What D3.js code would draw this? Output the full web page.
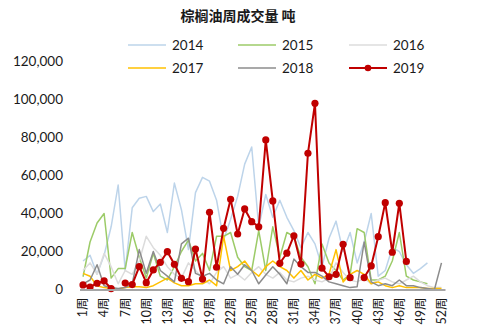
<!DOCTYPE html>
<html>
<head>
<meta charset="utf-8">
<script src="https://cdn.jsdelivr.net/npm/d3@7"></script>
<style>
  html, body { margin: 0; padding: 0; background: #fff; }
  svg text { font-family: Lato, "Noto Sans CJK SC", sans-serif; fill: #1a1a1a; }
</style>
</head>
<body>
<svg id="chart" width="485" height="334"></svg>
<script>
// Weekly palm oil trading volume (tonnes), weeks 1–52
const weeks = d3.range(1, 53);
const tickWeeks = weeks.filter(w => (w - 1) % 3 === 0);
const yTicks = [0, 20000, 40000, 60000, 80000, 100000, 120000];

const v2014 = [15000, 18000, 8000, 18000, 33000, 55000, 10000, 43000, 48000, 49000, 41000, 45000, 30000,
  56000, 42000, 21000, 51000, 59000, 57000, 47000, 26000, 37000, 49000, 66000, 75000, 33000,
  50000, 38000, 47000, 38000, 31000, 22000, 30000, 24000, 12000, 27000, 36000, 20000, 30000,
  14000, 25000, 40000, 7000, 10000, 22000, 20000, 13000, 8500, 11000, 14000, null, null];
const v2015 = [6700, 25000, 35000, 40000, 6000, 11000, 11000, 30000, 17000, 6000, 19000, 7000, 5000,
  12000, 20000, 26000, 15000, 19000, 10000, 28000, 28000, 30000, 17000, 12000, 10000, 31000,
  10000, 33000, 17000, 30000, 28000, 17000, 12000, 3000, 24000, 14000, 10000, 5000, 8000,
  32000, 30000, 5000, 5000, 7000, 15000, 30000, 7000, 5000, 4000, 3000, null, null];
const v2016 = [10000, 14000, 8000, 19000, 12000, 3000, 10000, 8000, 15000, 28000, 22000, 18000, 12000,
  8000, 6000, 14000, 10000, 6000, 3000, 9000, 12000, 6000, 8000, 5000, 9000, 12000,
  8000, 6000, 9000, 5000, 4000, 6000, 7000, 5000, 4000, 6000, 14000, 9000, 5000,
  4000, 6000, 3000, 5000, 6000, 4000, 3000, 5000, 7000, 4000, 2000, 1000, 1000];
const v2017 = [8500, 7000, 2000, 1000, 500, 300, 1000, 1500, 1500, 1000, 2000, 4000, 6000,
  3500, 2000, 2000, 3000, 3000, 5000, 2000, 28000, 10000, 12000, 15000, 10000, 7000,
  12000, 15000, 12000, 10000, 6000, 10000, 5000, 8000, 6000, 8000, 21000, 4000, 8000,
  10000, 8000, 3000, 4000, 2000, 1000, 2000, 1000, 1000, 1000, 500, 500, 500];
const v2018 = [3000, 5000, 13000, 2000, 1000, 500, 1000, 3000, 21000, 8500, 20000, 10000, 7000,
  4000, 24000, 27000, 8500, 7000, 8500, 5000, 3000, 12000, 8000, 13000, 10000, 3000,
  7600, 12000, 8000, 3000, 16000, 12000, 9000, 9000, 7000, 4000, 3000, 2000, 1000,
  1500, 25000, 4000, 2000, 3000, 2000, 5000, 2000, 2000, 1000, 500, 0, 14000];
const v2019 = [2400, 1300, 3300, 4500, 500, null, 3400, 2600, 12000, 3600, 10300, 14300, 19900,
  13300, 5900, 4100, 21300, 5500, 40600, 11700, 32200, 47500, 29200, 42400, 35700, 33000,
  78700, 46600, 13800, 19100, 28300, 13400, 71700, 98000, 11200, 6700, 8000, 23800, 6200,
  null, 6300, 12400, 27800, 45700, 19600, 45400, 14800, null, null, null, null, null];

const seriesNames = ["2014", "2015", "2016", "2017", "2018", "2019"];
const seriesValues = [v2014, v2015, v2016, v2017, v2018, v2019];
const colors = ["#bdd4ea", "#9ccb68", "#dcdcdc", "#ffc000", "#8c8c8c", "#c00000"];

const svg = d3.select("#chart");

const x = d3.scaleBand().domain(weeks).range([79.5, 445]);
const cx = w => x(w) + x.bandwidth() / 2;
const y = d3.scaleLinear().domain([0, 120000]).range([289.5, 61.5]);

// Title
svg.append("text")
  .attr("x", 238).attr("y", 21)
  .attr("text-anchor", "middle")
  .style("font-family", "'Noto Sans CJK SC', sans-serif")
  .style("font-size", "14px").style("font-weight", "bold")
  .text("棕榈油周成交量 吨");

// Y axis labels (no axis line)
const yAxis = d3.axisLeft(y).tickValues(yTicks).tickSize(0).tickPadding(0)
  .tickFormat(d3.format(","));
const gy = svg.append("g").attr("transform", "translate(63,0)").call(yAxis);
gy.select(".domain").remove();
gy.selectAll("text").style("font-size", "13.5px").style("font-family", "Lato, sans-serif").attr("fill", "#1a1a1a");

// Lines
const line = d3.line()
  .defined(d => d.v !== null)
  .x(d => cx(d.w))
  .y(d => y(d.v));

seriesValues.forEach((vals, i) => {
  const pts = vals.map((v, k) => ({ w: weeks[k], v }));
  svg.append("path")
    .datum(pts)
    .attr("fill", "none")
    .attr("stroke", colors[i])
    .attr("stroke-width", i === 5 ? 2 : 1.5)
    .attr("stroke-linejoin", "round")
    .attr("d", line);
  if (i === 5) {
    svg.append("g").selectAll("circle")
      .data(pts.filter(d => d.v !== null))
      .join("circle")
      .attr("cx", d => cx(d.w))
      .attr("cy", d => y(d.v))
      .attr("r", 3.6)
      .attr("fill", colors[i]);
  }
});

// X axis
const xAxis = d3.axisBottom(x).tickValues(tickWeeks).tickSize(0).tickPadding(0)
  .tickFormat(w => w + "周");
const gx = svg.append("g").attr("transform", `translate(0,${y(0)})`).call(xAxis);
gx.select(".domain").attr("stroke", "#a6a6a6").attr("stroke-width", 2);
gx.selectAll("text")
  .attr("transform", "rotate(-90)")
  .attr("x", -8).attr("y", 0).attr("dy", "0.35em")
  .attr("text-anchor", "end")
  .style("font-size", "12.5px")
  .style("font-family", "Lato, 'Noto Sans CJK SC', sans-serif")
  .attr("fill", "#1a1a1a");

// Legend
const legX = [128, 238, 349];
const legY = [45, 68];
seriesNames.forEach((name, i) => {
  const lx = legX[i % 3], ly = legY[Math.floor(i / 3)];
  const g = svg.append("g").attr("transform", `translate(${lx},${ly})`);
  g.append("line").attr("x1", 0).attr("x2", 38).attr("y1", 0).attr("y2", 0)
    .attr("stroke", colors[i]).attr("stroke-width", i === 5 ? 2 : 1.5);
  if (i === 5) g.append("circle").attr("cx", 19).attr("cy", 0).attr("r", 3.3).attr("fill", colors[i]);
  g.append("text").attr("x", 44).attr("y", 0).attr("dy", "0.35em")
    .style("font-size", "13.5px").text(name);
});
</script>
</body>
</html>
